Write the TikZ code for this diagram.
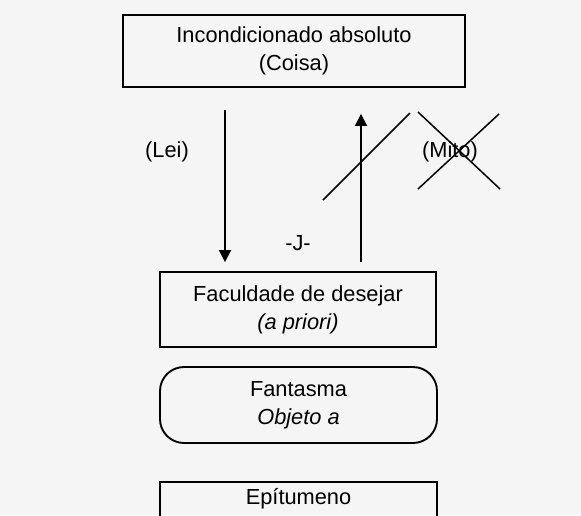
\documentclass[tikz,border=0pt]{standalone}
\usepackage{fontspec}
\setmainfont{Liberation Sans}
\usetikzlibrary{arrows.meta,calc}
\begin{document}
\begin{tikzpicture}[x=1pt,y=-1pt,
  txt/.style={font=\fontsize{21.8}{28}\selectfont, inner sep=0pt},
  box/.style={txt, draw, line width=1.9pt, align=center},
  arr/.style={line width=1.8pt, -{Triangle[length=12pt,width=12pt]}},
  cross/.style={line width=1.5pt}]
\fill[white!96!black] (0,0) rectangle (581,515);
\useasboundingbox (0,0) rectangle (581,515);
\begin{scope}
\clip (0,0) rectangle (581,515);
\node[box, minimum width=342pt, minimum height=72pt] (top) at (294,51) {Incondicionado absoluto\\(Coisa)};
\node[box, minimum width=276pt, minimum height=75pt] (fac) at (298,309.5) {Faculdade de desejar\\\textit{(a priori)}};
\node[box, rounded corners=24pt, minimum width=277pt, minimum height=76pt] (fan) at (298.5,405) {Fantasma\\\textit{Objeto a}};
\node[box, anchor=north, minimum width=277pt, minimum height=66pt] (epi) at (298.5,481) {Epítumeno\\\strut};
\end{scope}
\coordinate (cl) at (225,0);
\coordinate (cj) at (361,0);
\draw[arr, shorten <=22pt, shorten >=9pt] (top.south -| cl) -- (fac.north -| cl);
\draw[arr, shorten <=9pt, shorten >=26pt] (fac.north -| cj) -- (top.south -| cj);
\node[txt] (lei) at (167,152) {(Lei)};
\node[txt] (mito) at (450,152) {(Mito)};
\node[txt] (jj) at (298,243) {-J-};
\coordinate (s1) at (323,200);
\coordinate (s2) at (410,113);
\draw[cross] (s1) -- (s2);
\coordinate (x1) at (418,112);
\coordinate (x2) at (500,189);
\coordinate (x3) at (499,114);
\coordinate (x4) at (418,189);
\draw[cross] (x1) -- (x2);
\draw[cross] (x3) -- (x4);
\end{tikzpicture}
\end{document}
